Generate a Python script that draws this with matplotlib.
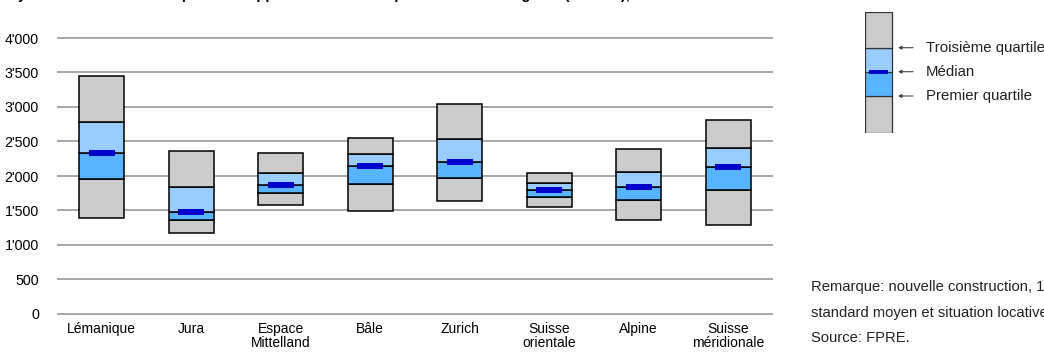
import matplotlib
matplotlib.use('Agg')
import matplotlib.pyplot as plt
from matplotlib.ticker import FuncFormatter

plt.rcParams['font.family'] = ['Liberation Sans', 'DejaVu Sans']

# ---- data ----
regions = ['Lémanique', 'Jura', 'Espace\nMittelland', 'Bâle', 'Zurich',
           'Suisse\norientale', 'Alpine', 'Suisse\nméridionale']
minimum = [1390, 1180, 1575, 1490, 1635, 1550, 1365, 1285]
q1 = [1960, 1360, 1750, 1885, 1975, 1700, 1650, 1800]
median = [2335, 1485, 1865, 2150, 2200, 1800, 1840, 2135]
q3 = [2785, 1845, 2050, 2315, 2535, 1900, 2065, 2405]
maximum = [3450, 2360, 2330, 2555, 3045, 2050, 2390, 2810]
yticks = [0, 500, 1000, 1500, 2000, 2500, 3000, 3500, 4000]

legend_sample = [0, 37, 61.3, 85.3, 121]   # min, Q1, median, Q3, max (legend glyph)
legend_labels = ['Troisième quartile', 'Médian', 'Premier quartile']

title = "Loyers médians de l'offre pour des appartements de 4½ pièces dans les régions (en CHF),"
notes = ["Remarque: nouvelle construction, 100 m²,",
         "standard moyen et situation locative moyenne.",
         "Source: FPRE."]

GRAY = '#CCCCCC'
LIGHT = '#99CCFF'
MID = '#59B4FF'
DARK = '#0000CC'

W, H = 1044, 354
fig = plt.figure(figsize=(W / 100, H / 100), dpi=100)


def fx(px):
    return px / W


def fy(py):
    return 1 - py / H


# ---- main axes ----
ylo, yhi = -100, 4100
ppu = 276 / 4000
top_px = 38 - (yhi - 4000) * ppu
bot_px = 314 + (0 - ylo) * ppu
ax = fig.add_axes([fx(57), fy(bot_px), fx(773) - fx(57), (bot_px - top_px) / H])
ax.set_xlim(-0.5, 7.5)
ax.set_ylim(ylo, yhi)
for s in ax.spines.values():
    s.set_visible(False)
for v in yticks:
    ax.axhline(v, color='#A0A0A0', lw=1.3, zorder=0)
ax.set_yticks(yticks)
ax.yaxis.set_major_formatter(FuncFormatter(lambda v, p: f"{int(v):,}".replace(',', "'")))
x = list(range(len(regions)))
ax.set_xticks(x)
ax.set_xticklabels(regions, linespacing=0.95)
ax.tick_params(axis='y', length=0, labelsize=10.3, pad=13)
ax.tick_params(axis='x', length=0, labelsize=10, pad=1)

kw = dict(width=0.5, edgecolor='black', linewidth=1.1, zorder=2)
ax.bar(x, [b - a for a, b in zip(minimum, q1)], bottom=minimum, color=GRAY, **kw)
ax.bar(x, [b - a for a, b in zip(q1, median)], bottom=q1, color=MID, **kw)
ax.bar(x, [b - a for a, b in zip(median, q3)], bottom=median, color=LIGHT, **kw)
ax.bar(x, [b - a for a, b in zip(q3, maximum)], bottom=q3, color=GRAY, **kw)
ax.hlines(median, [i - 0.145 for i in x], [i + 0.145 for i in x],
          color=DARK, lw=4.3, zorder=3, capstyle='butt')

# ---- legend glyph ----
lax = fig.add_axes([fx(865), fy(133), fx(1044) - fx(865), (133 - 12) / H])
lax.set_xlim(0, 179)
lax.set_ylim(0, 121)
lax.axis('off')
cols = [GRAY, MID, LIGHT, GRAY]
for k in range(4):
    lax.bar(13.5, legend_sample[k + 1] - legend_sample[k], bottom=legend_sample[k],
            width=27, color=cols[k], edgecolor='#333333', linewidth=0.9)
lax.hlines(legend_sample[2], 4, 23, color=DARK, lw=2.8, zorder=3, capstyle='butt')
for lab, yv in zip(legend_labels, [legend_sample[3], legend_sample[2], legend_sample[1]]):
    lax.annotate('', xy=(33, yv), xytext=(48, yv),
                 arrowprops=dict(arrowstyle='-|>', color='#444444', lw=0.8,
                                 mutation_scale=5, shrinkA=0, shrinkB=0))
    lax.text(61, yv, lab, fontsize=10.8, va='center', ha='left', color='#222222')

# ---- notes ----
for t, py in zip(notes, [287, 313, 338]):
    fig.text(fx(811), fy(py), t, fontsize=10.6, va='center', ha='left', color='#222222')

# ---- title (cut off at top edge, only descenders visible) ----
fig.text(fx(0), fy(-1.5), title, fontsize=10.5, fontweight='bold', va='baseline', ha='left')

fig.savefig('out.png', dpi=100)
